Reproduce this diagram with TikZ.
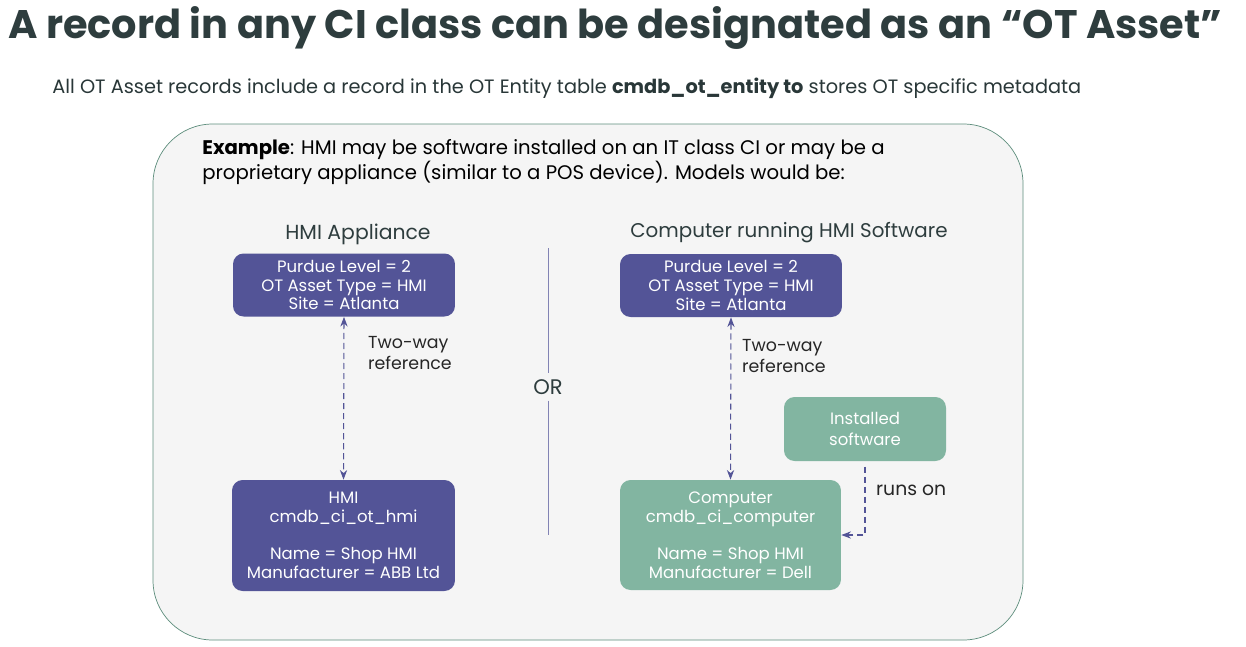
\documentclass[tikz,border=0pt]{standalone}
\usepackage{fontspec}
\setmainfont{Poppins}
\usetikzlibrary{arrows.meta}
\definecolor{titlegray}{HTML}{2E3D3E}
\definecolor{otpurple}{HTML}{535497}
\definecolor{otgreen}{HTML}{82B5A1}
\definecolor{panelgray}{HTML}{F5F5F5}
\definecolor{panelline}{HTML}{5E8E7D}
\definecolor{orline}{HTML}{8283B4}

\begin{document}
\begin{tikzpicture}[x=0.02cm, y=-0.02cm,
    recbox/.style={rounded corners=6pt, text=white, align=center,
      font=\fontsize{9.4}{10.6}\selectfont, inner sep=0pt},
    purplebox/.style={recbox, fill=otpurple},
    greenbox/.style={recbox, fill=otgreen},
    linkline/.style={dash pattern=on 3.5pt off 2.2pt, otpurple, semithick},
    refarrow/.style={linkline, {Stealth[length=5.5pt]}-{Stealth[length=5.5pt]}},
    reflabel/.style={anchor=west, align=left, text=black!85, font=\fontsize{9.9}{11.6}\selectfont}]
  \useasboundingbox (0,0) rectangle (1246,646);
  \fill[white] (0,0) rectangle (1246,646);

  % title and subtitle
  \node[anchor=west, inner sep=0pt, text=titlegray, font=\fontsize{22.7}{25}\selectfont\bfseries] (title) at (8,28)
    {A record in any CI class can be designated as an “OT Asset”};
  \node[anchor=west, inner sep=0pt, text=titlegray!90!black, font=\fontsize{11}{13}\selectfont] (subtitle) at (52,88)
    {All OT Asset records include a record in the OT Entity table \textbf{cmdb\_ot\_entity to} stores OT specific metadata};

  % panel
  \draw[panelline, fill=panelgray, rounded corners=34pt] (153,124) rectangle (1023,640);
  \node[anchor=north west, align=left, inner sep=0pt, text=black, font=\fontsize{11.2}{13}\selectfont] (example) at (202,139)
    {\textbf{Example}: HMI may be software installed on an IT class CI or may be a\\
     proprietary appliance (similar to a POS device).  Models would be:};

  % left model
  \node[text=titlegray, font=\fontsize{11.6}{13}\selectfont] (applhead) at (358,234) {HMI Appliance};
  \node[purplebox, minimum width=4.44cm, minimum height=1.26cm] (appltop) at (344,285)
    {Purdue Level = 2\\OT Asset Type = HMI\\Site = Atlanta};
  \node[purplebox, minimum width=4.46cm, minimum height=2.22cm] (applci) at (343.5,535.5)
    {HMI\\cmdb\_ci\_ot\_hmi\\[10.6pt]Name = Shop HMI\\Manufacturer = ABB Ltd};
  \draw[refarrow] (appltop.south) -- (applci.north);
  \node[reflabel] (applref) at (362,353) {Two-way\\reference};

  % divider
  \node[text=titlegray, font=\fontsize{12}{14}\selectfont] (ortext) at (548,387) {OR};
  \draw[orline] (548,248) -- (ortext.north);
  \draw[orline] (ortext.south) -- (548,535);

  % right model
  \node[text=titlegray, font=\fontsize{11.3}{13}\selectfont] (comphead) at (789,233) {Computer running HMI Software};
  \node[purplebox, minimum width=4.44cm, minimum height=1.26cm] (comptop) at (731,285.5)
    {Purdue Level = 2\\OT Asset Type = HMI\\Site = Atlanta};
  \node[greenbox, minimum width=4.42cm, minimum height=2.2cm] (compci) at (730.5,535)
    {Computer\\cmdb\_ci\_computer\\[10.6pt]Name = Shop HMI\\Manufacturer = Dell};
  \node[greenbox, minimum width=3.24cm, minimum height=1.28cm] (software) at (865,429)
    {Installed\\[1.2pt]software};
  \draw[refarrow] (comptop.south) -- (compci.north);
  \node[reflabel] (compref) at (736,356) {Two-way\\reference};
  \draw[linkline, -{Stealth[length=5.5pt]}, shorten <=3pt] (software.south) |- (compci.east);
  \node[reflabel, font=\fontsize{10.7}{12}\selectfont] (runson) at (870,490) {runs on};
\end{tikzpicture}
\end{document}
